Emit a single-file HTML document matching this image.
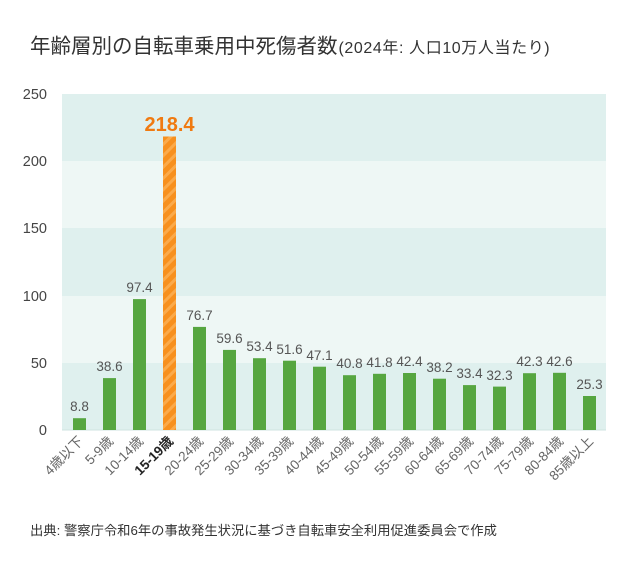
<!DOCTYPE html>
<html><head><meta charset="utf-8"><style>
body{margin:0;background:#fff;}
svg{display:block;font-family:"Liberation Sans","Noto Sans CJK JP",sans-serif;}
</style></head><body>
<svg width="640" height="581" viewBox="0 0 640 581" xmlns="http://www.w3.org/2000/svg">
<defs>
<pattern id="st" patternUnits="userSpaceOnUse" width="8" height="8" patternTransform="rotate(-45)">
<rect width="8" height="8" fill="#f7901e"/>
<rect width="8" height="3" fill="#fbaa4a"/>
</pattern>
</defs>
<text x="30" y="53" font-size="20.5" fill="#333">年齢層別の自転車乗用中死傷者数<tspan font-size="16" letter-spacing="0.6" dx="1">(2024年: 人口10万人当たり)</tspan></text>
<rect x="62" y="94" width="544" height="67" fill="#dff0ee"/>
<rect x="62" y="161" width="544" height="67" fill="#eef7f5"/>
<rect x="62" y="228" width="544" height="68" fill="#dff0ee"/>
<rect x="62" y="296" width="544" height="67" fill="#eef7f5"/>
<rect x="62" y="363" width="544" height="67" fill="#dff0ee"/>
<line x1="62" y1="430" x2="606" y2="430" stroke="#cfe3e0" stroke-width="1"/>
<g font-size="14.5" fill="#444" text-anchor="end">
<text x="47" y="99">250</text><text x="47" y="166">200</text><text x="47" y="233">150</text>
<text x="47" y="301">100</text><text x="47" y="368">50</text><text x="47" y="435">0</text>
</g>
<g fill="#56a640">
<rect x="73" y="418.2" width="13" height="11.8"/>
<rect x="103" y="378.1" width="13" height="51.9"/>
<rect x="133" y="299.1" width="13" height="130.9"/>
<rect x="193" y="326.9" width="13" height="103.1"/>
<rect x="223" y="349.9" width="13" height="80.1"/>
<rect x="253" y="358.2" width="13" height="71.8"/>
<rect x="283" y="360.7" width="13" height="69.3"/>
<rect x="313" y="366.7" width="13" height="63.3"/>
<rect x="343" y="375.2" width="13" height="54.8"/>
<rect x="373" y="373.8" width="13" height="56.2"/>
<rect x="403" y="373" width="13" height="57"/>
<rect x="433" y="378.7" width="13" height="51.3"/>
<rect x="463" y="385.1" width="13" height="44.9"/>
<rect x="493" y="386.6" width="13" height="43.4"/>
<rect x="523" y="373.2" width="13" height="56.8"/>
<rect x="553" y="372.8" width="13" height="57.2"/>
<rect x="583" y="396" width="13" height="34"/>
</g>
<rect x="163" y="136.5" width="13" height="293.5" fill="url(#st)"/>
<g font-size="13.5" fill="#555" text-anchor="middle">
<text x="79.5" y="411">8.8</text>
<text x="109.5" y="371">38.6</text>
<text x="139.5" y="292">97.4</text>
<text x="199.5" y="320">76.7</text>
<text x="229.5" y="343">59.6</text>
<text x="259.5" y="351">53.4</text>
<text x="289.5" y="354">51.6</text>
<text x="319.5" y="360">47.1</text>
<text x="349.5" y="368">40.8</text>
<text x="379.5" y="367">41.8</text>
<text x="409.5" y="366">42.4</text>
<text x="439.5" y="372">38.2</text>
<text x="469.5" y="378">33.4</text>
<text x="499.5" y="380">32.3</text>
<text x="529.5" y="366">42.3</text>
<text x="559.5" y="366">42.6</text>
<text x="589.5" y="389">25.3</text>
</g>
<text x="169.5" y="131" font-size="20" font-weight="bold" fill="#f07a10" text-anchor="middle">218.4</text>
<g font-size="13.5" fill="#666" text-anchor="end">
<text transform="translate(84,442) rotate(-45)">4歳以下</text>
<text transform="translate(114,442) rotate(-45)">5-9歳</text>
<text transform="translate(144,442) rotate(-45)">10-14歳</text>
<text transform="translate(174,442) rotate(-45)" fill="#222" font-weight="bold">15-19歳</text>
<text transform="translate(204,442) rotate(-45)">20-24歳</text>
<text transform="translate(234,442) rotate(-45)">25-29歳</text>
<text transform="translate(264,442) rotate(-45)">30-34歳</text>
<text transform="translate(294,442) rotate(-45)">35-39歳</text>
<text transform="translate(324,442) rotate(-45)">40-44歳</text>
<text transform="translate(354,442) rotate(-45)">45-49歳</text>
<text transform="translate(384,442) rotate(-45)">50-54歳</text>
<text transform="translate(414,442) rotate(-45)">55-59歳</text>
<text transform="translate(444,442) rotate(-45)">60-64歳</text>
<text transform="translate(474,442) rotate(-45)">65-69歳</text>
<text transform="translate(504,442) rotate(-45)">70-74歳</text>
<text transform="translate(534,442) rotate(-45)">75-79歳</text>
<text transform="translate(564,442) rotate(-45)">80-84歳</text>
<text transform="translate(594,442) rotate(-45)">85歳以上</text>
</g>
<text x="30" y="535" font-size="13.3" fill="#333">出典: 警察庁令和6年の事故発生状況に基づき自転車安全利用促進委員会で作成</text>
</svg>
</body></html>
